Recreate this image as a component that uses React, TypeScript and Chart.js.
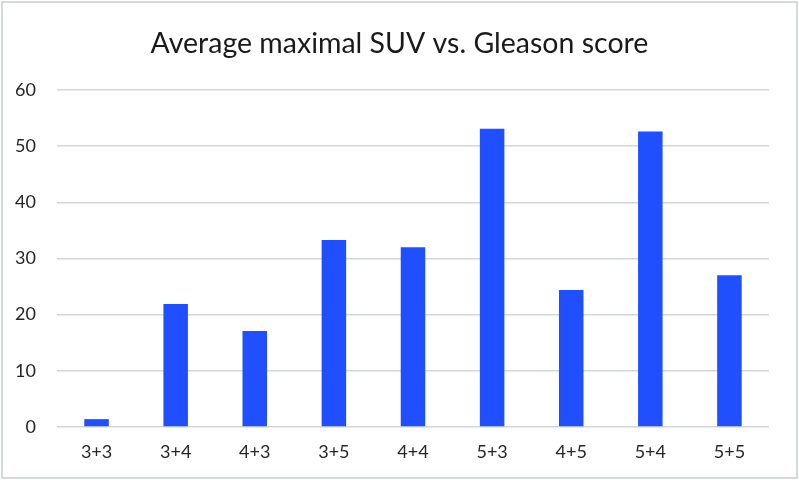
import React, { useEffect, useRef } from "react";
import { Chart, registerables } from "chart.js";

Chart.register(...registerables);

const categories = ["3+3", "3+4", "4+3", "3+5", "4+4", "5+3", "4+5", "5+4", "5+5"];
const suvValues = [1.4, 21.9, 17.1, 33.3, 32.0, 53.1, 24.4, 52.6, 27.0];
const titleText = "Average maximal SUV vs. Gleason score";

const FONT = "Lato, 'Open Sans', sans-serif";

const framePlugin = {
  id: "frameAndTitle",
  beforeDraw(chart: any) {
    const { ctx, width, height } = chart;
    ctx.save();
    ctx.fillStyle = "#ffffff";
    ctx.fillRect(0, 0, width, height);
    ctx.restore();
  },
  afterDraw(chart: any) {
    const { ctx, width, height } = chart;
    ctx.save();
    ctx.strokeStyle = "#d3dada";
    ctx.lineWidth = 2;
    ctx.strokeRect(2, 2, width - 4, height - 4);
    ctx.fillStyle = "#1a1a1a";
    ctx.font = `28.5px ${FONT}`;
    ctx.textAlign = "center";
    ctx.textBaseline = "middle";
    ctx.fillText(titleText, width / 2, 44);
    ctx.restore();
  },
};

export default function App() {
  const ref = useRef<HTMLCanvasElement | null>(null);

  useEffect(() => {
    if (!ref.current) return;
    const chart = new Chart(ref.current, {
      type: "bar",
      data: {
        labels: categories,
        datasets: [
          {
            data: suvValues,
            backgroundColor: "#1f4fff",
            borderWidth: 0,
            categoryPercentage: 1,
            barPercentage: 0.31,
          },
        ],
      },
      options: {
        animation: false,
        responsive: false,
        maintainAspectRatio: false,
        layout: { padding: { top: 90, right: 30, bottom: 0, left: 0 } },
        plugins: {
          legend: { display: false },
          tooltip: { enabled: false },
          title: { display: false },
        },
        scales: {
          x: {
            grid: { display: false, drawTicks: false },
            border: { display: false },
            ticks: {
              color: "#262626",
              font: { family: FONT, size: 18 },
              padding: 14,
              maxRotation: 0,
            },
            afterFit(scale: any) {
              scale.height = 53;
            },
          },
          y: {
            min: 0,
            max: 60,
            grid: { color: "#cfd8d8", lineWidth: 1.5, drawTicks: false },
            border: { display: false },
            ticks: {
              stepSize: 10,
              color: "#262626",
              font: { family: FONT, size: 18 },
              padding: 21,
            },
            afterFit(scale: any) {
              scale.width = 57;
            },
          },
        },
      },
      plugins: [framePlugin],
    });
    return () => chart.destroy();
  }, []);

  return (
    <div style={{ position: "fixed", left: 0, top: 0, width: 799, height: 480, background: "#fff" }}>
      <canvas ref={ref} width={799} height={480} style={{ display: "block", width: 799, height: 480 }} />
    </div>
  );
}
